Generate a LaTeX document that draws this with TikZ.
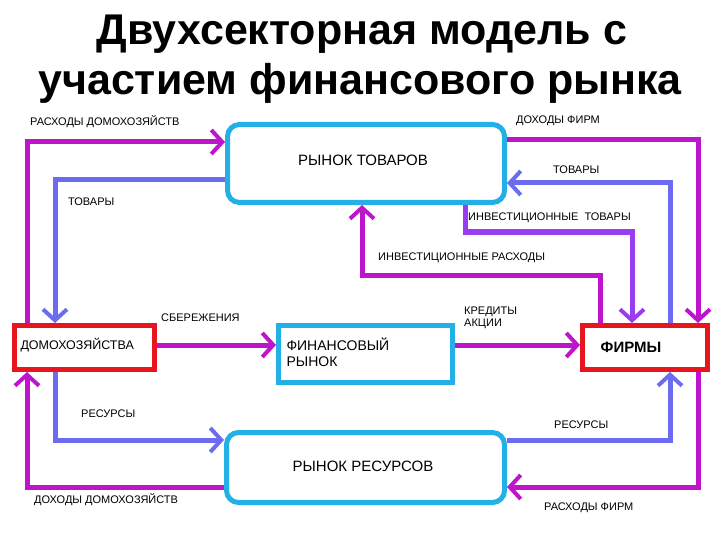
\documentclass[tikz,border=0pt]{standalone}
\usepackage{fontspec}
\setmainfont{Liberation Sans}
\usetikzlibrary{arrows.meta}
\definecolor{mag}{HTML}{BE14CC}
\definecolor{blu}{HTML}{6C6CF0}
\definecolor{pur}{HTML}{9A3CF0}
\definecolor{cya}{HTML}{22B0E6}
\definecolor{rd}{HTML}{E8141E}
\tikzset{
 mkt/.style={draw=cya,line width=5pt,rounded corners=12pt,fill=white,font=\fontsize{15}{17}\selectfont},
 ag/.style={draw=rd,line width=5pt,fill=white},
 flow/.style={line width=5pt,-{Straight Barb[length=11pt,width=24pt,line width=4pt]}},
 lab/.style={font=\fontsize{11}{12.5}\selectfont,inner sep=0pt,align=left},
}
\begin{document}
\begin{tikzpicture}[x=1pt,y=-1pt]
\useasboundingbox (0,0) rectangle (720,540);
\node (t1) at (362,34) {\fontsize{43}{48}\selectfont\bfseries Двухсекторная модель с};
\node (t2) at (360,83) {\fontsize{43}{48}\selectfont\bfseries участием финансового рынка};
% boxes
\node[mkt,minimum width=277pt,minimum height=78pt,anchor=north west] (gm) at (225,122) {};
\node (gmt) at (363,160) {\fontsize{15}{17}\selectfont РЫНОК ТОВАРОВ};
\node[mkt,minimum width=278pt,minimum height=70pt,anchor=north west] (rm) at (224,430) {};
\node (rmt) at (363,466) {\fontsize{15}{17}\selectfont РЫНОК РЕСУРСОВ};
\node[draw=cya,line width=5pt,fill=white,minimum width=174pt,minimum height=57pt,anchor=north west] (fm) at (276,323) {};
\node[anchor=west,align=left,font=\fontsize{14}{16}\selectfont] (fmt) at (283,352) {ФИНАНСОВЫЙ\\РЫНОК};
\node[ag,minimum width=140pt,minimum height=44pt,anchor=north west] (hh) at (12,323) {};
\node[anchor=west,font=\fontsize{12.5}{14}\selectfont] (hht) at (17,345) {ДОМОХОЗЯЙСТВА};
\node[ag,minimum width=125pt,minimum height=44pt,anchor=north west] (fi) at (580,323) {};
\node[font=\fontsize{15}{17}\selectfont\bfseries] (fit) at (631,347) {ФИРМЫ};
% coordinates
\coordinate (a1) at (27,142); \coordinate (a2) at (55,180);
\coordinate (a3) at (698,140); \coordinate (a4) at (670,183);
\coordinate (a5) at (465,232); \coordinate (a6) at (632,232);
\coordinate (a7) at (600,275); \coordinate (a8) at (362,275);
\coordinate (b1) at (55,440); \coordinate (b2) at (670,440);
\coordinate (b3) at (698,487); \coordinate (b4) at (27,487);
% flows
\draw[flow,mag] (hh.north west -| a1) -- (a1) -- (a1 -| gm.west);
\draw[flow,blu] (gm.west |- a2) -- (a2) -- (a2 |- hh.north);
\draw[flow,mag] (gm.east |- a3) -- (a3) -- (a3 |- fi.north);
\draw[flow,blu] (fi.north -| a4) -- (a4) -- (a4 -| gm.east);
\draw[flow,pur] (gm.south -| a5) -- (a5) -- (a6) -- (a6 |- fi.north);
\draw[flow,mag] (fi.north -| a7) -- (a7) -- (a8) -- (a8 |- gm.south);
\draw[flow,mag] (hh.east |- 0,345) -- (fm.west |- 0,345);
\draw[flow,mag] (fm.east |- 0,345) -- (fi.west |- 0,345);
\draw[flow,blu] (hh.south -| b1) -- (b1) -- (b1 -| rm.west);
\draw[flow,blu] (rm.east |- b2) -- (b2) -- (b2 |- fi.south);
\draw[flow,mag] (fi.south -| b3) -- (b3) -- (b3 -| rm.east);
\draw[flow,mag] (rm.west |- b4) -- (b4) -- (b4 |- hh.south);
% labels
\node[lab,anchor=west] (l1) at (30,122) {РАСХОДЫ ДОМОХОЗЯЙСТВ};
\node[lab,anchor=west] (l2) at (68,202) {ТОВАРЫ};
\node[lab,anchor=west] (l3) at (516,121) {ДОХОДЫ ФИРМ};
\node[lab,anchor=west] (l4) at (553,170) {ТОВАРЫ};
\node[lab,anchor=west] (l5) at (468,218) {ИНВЕСТИЦИОННЫЕ\ \ ТОВАРЫ};
\node[lab,anchor=west] (l6) at (378,258) {ИНВЕСТИЦИОННЫЕ РАСХОДЫ};
\node[lab,anchor=west] (l7) at (161,318) {СБЕРЕЖЕНИЯ};
\node[lab,anchor=west] (l8) at (464,318) {КРЕДИТЫ\\АКЦИИ};
\node[lab,anchor=west] (l9) at (81,414) {РЕСУРСЫ};
\node[lab,anchor=west] (l10) at (554,425) {РЕСУРСЫ};
\node[lab,anchor=west] (l11) at (544,508) {РАСХОДЫ ФИРМ};
\node[lab,anchor=west] (l12) at (34,500) {ДОХОДЫ ДОМОХОЗЯЙСТВ};
\end{tikzpicture}
\end{document}
